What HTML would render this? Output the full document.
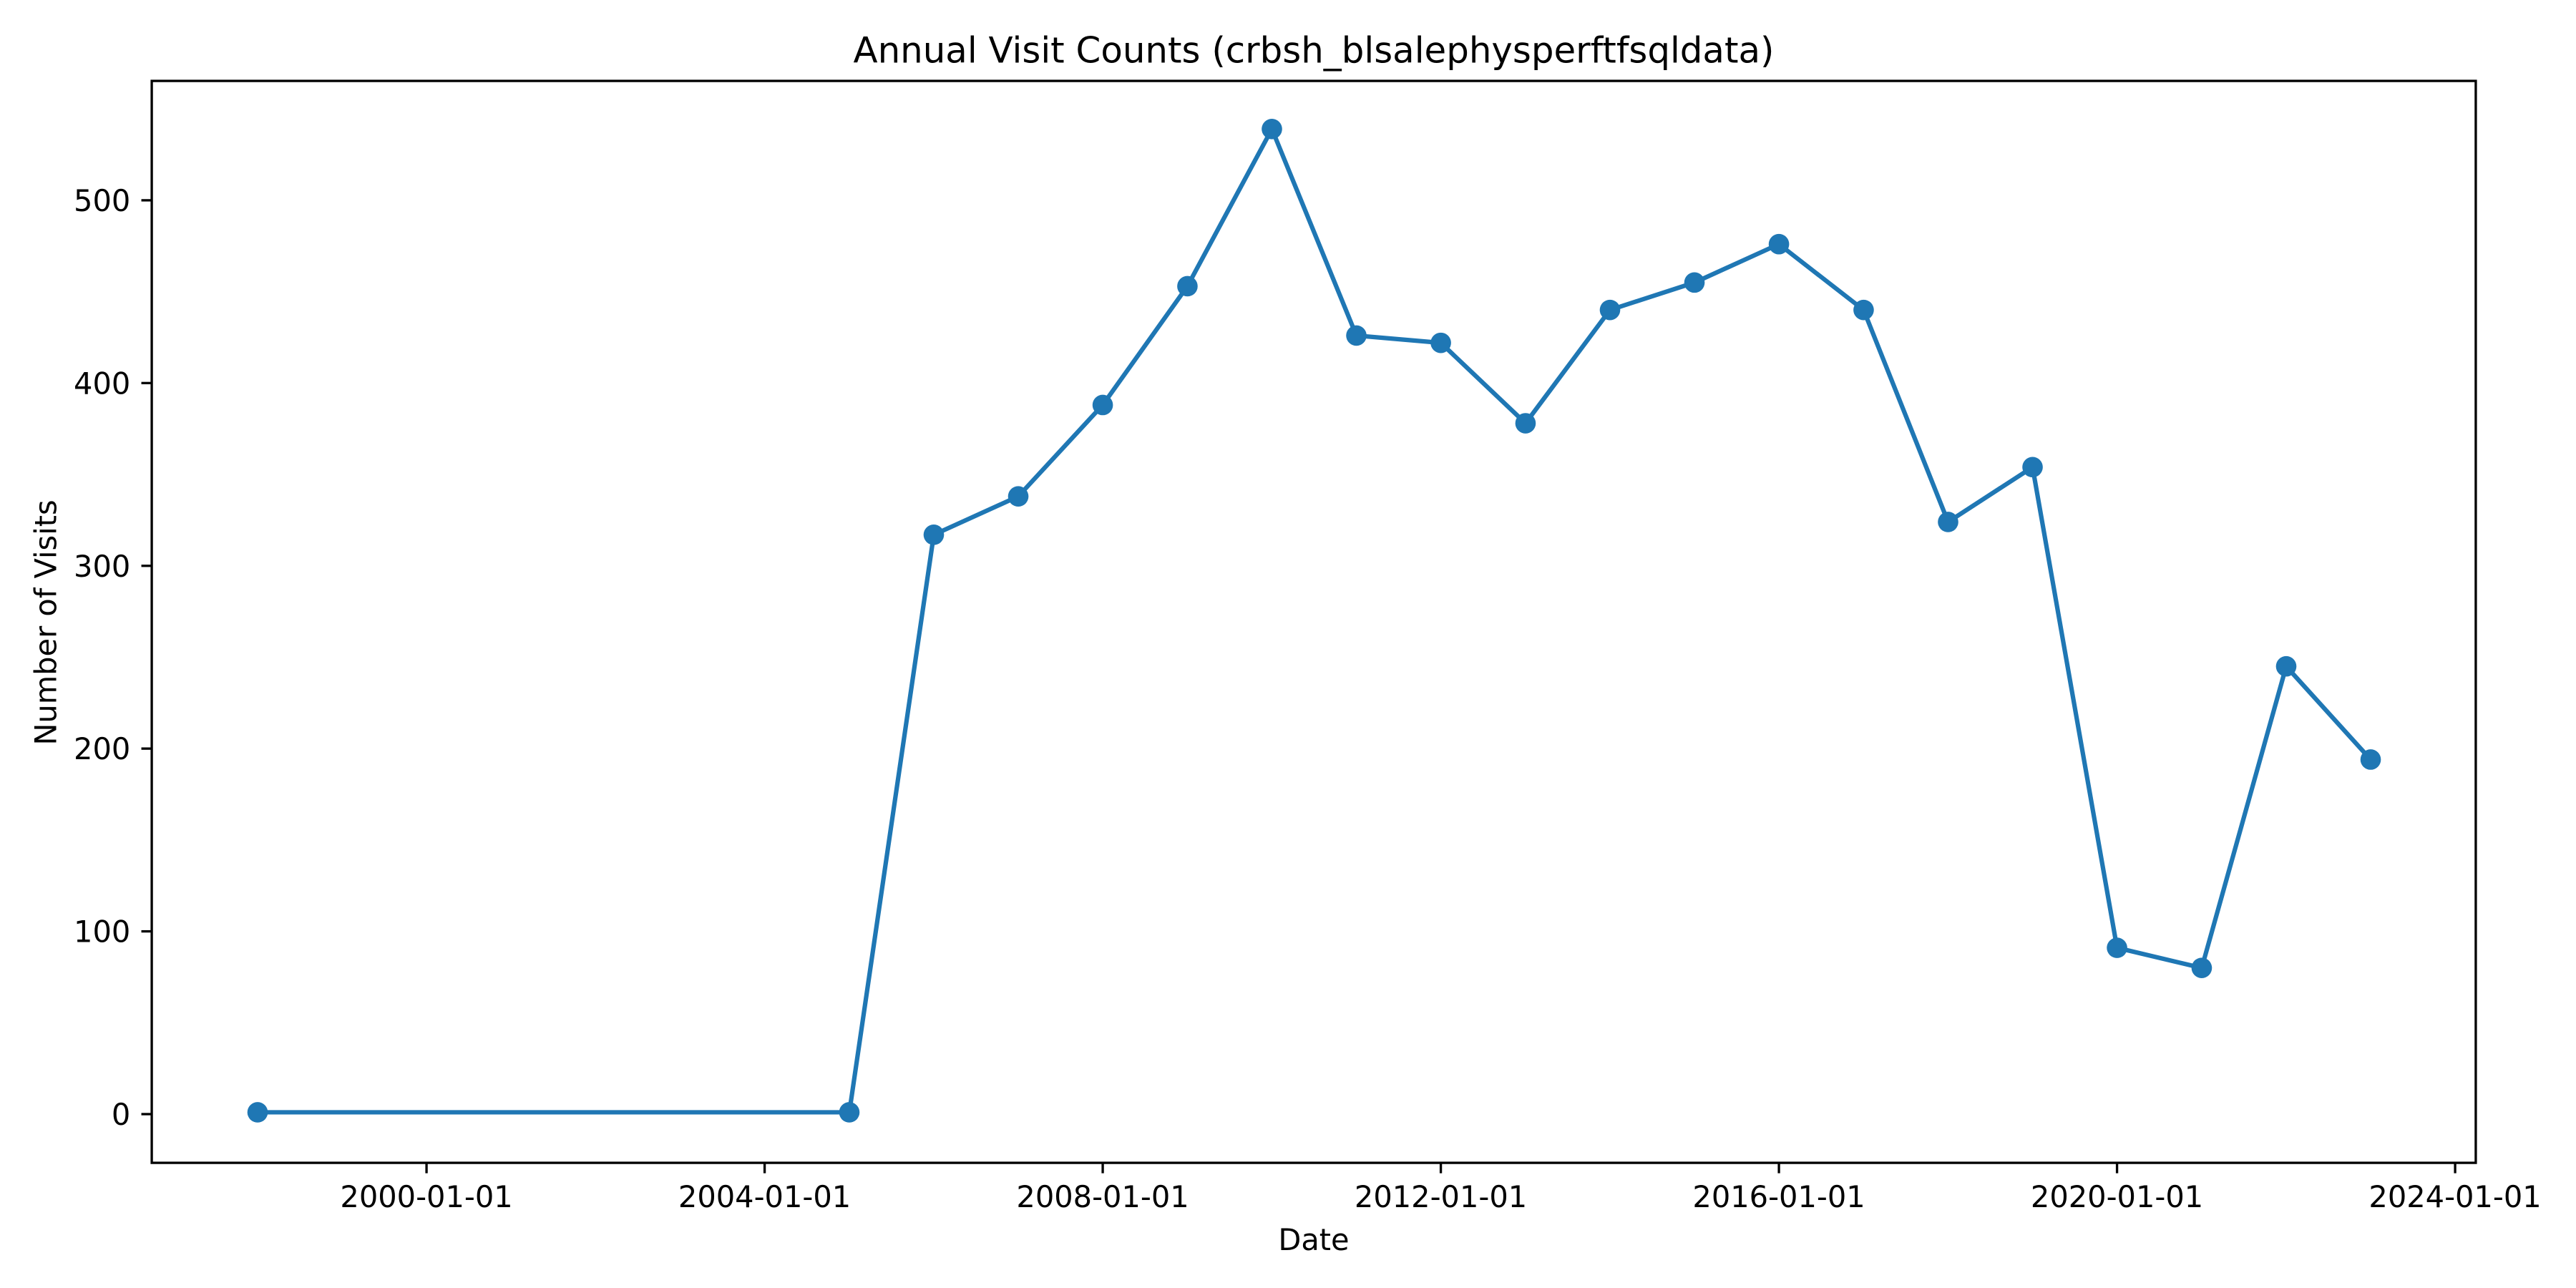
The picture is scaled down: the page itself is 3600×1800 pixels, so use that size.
<!DOCTYPE html>
<html><head><meta charset="utf-8">
<style>html,body{margin:0;padding:0;background:#fff}svg{display:block}</style>
</head><body>
<svg id="chart" width="3600" height="1800" viewBox="0 0 1560 780" xmlns="http://www.w3.org/2000/svg" font-family="'DejaVu Sans','Liberation Sans',sans-serif">
<rect width="1560" height="780" fill="#fff"/>
<text x="795.6" y="38" text-anchor="middle" font-size="21.6">Annual Visit Counts (crbsh_blsalephysperftfsqldata)</text>
<g id="grid"></g>
<rect x="91.9" y="49" width="1407.4" height="655.2" fill="none" stroke="#000" stroke-width="1.44"/>
<text x="795.6" y="757" text-anchor="middle" font-size="18">Date</text>
<text transform="translate(34,377) rotate(-90)" text-anchor="middle" font-size="18">Number of Visits</text>
</svg>
<script>
const years = [1998,2005,2006,2007,2008,2009,2010,2011,2012,2013,2014,2015,2016,2017,2018,2019,2020,2021,2022,2023];
const visits = [1,1,317,338,388,453,539,426,422,378,440,455,476,440,324,354,91,80,245,194];
const xTickLabels = ["2000-01-01","2004-01-01","2008-01-01","2012-01-01","2016-01-01","2020-01-01","2024-01-01"];
const yTicks = [0,100,200,300,400,500];

const NS="http://www.w3.org/2000/svg";
const svg=document.getElementById('chart');
const g=document.getElementById('grid');
const t0=Date.UTC(2000,0,1), t1=Date.UTC(2024,0,1);
function xPos(ms){return 258.3+(ms-t0)/(t1-t0)*(1486.8-258.3);}
function yPos(v){return 674.7+(v-0)*(121.3-674.7)/500;}
function mk(tag,attrs,parent){const e=document.createElementNS(NS,tag);for(const k in attrs)e.setAttribute(k,attrs[k]);(parent||svg).appendChild(e);return e;}

yTicks.forEach(v=>{
  const y=yPos(v);
  const tk=mk('line',{x1:91.9,x2:85.6,y1:y,y2:y,stroke:'#000','stroke-width':1.44},g);
  
  
  const tx=mk('text',{x:79,y:y+6.5,'text-anchor':'end','font-size':'18'},g);
  tx.textContent=String(v);
  
  
});
xTickLabels.forEach(s=>{
  const p=s.split('-').map(Number);
  const x=xPos(Date.UTC(p[0],p[1]-1,p[2]));
  const tk=mk('line',{x1:x,x2:x,y1:704.2,y2:710.5,stroke:'#000','stroke-width':1.44},g);
  
  
  const tx=mk('text',{x:x,y:731,'text-anchor':'middle','font-size':'18'},g);
  tx.textContent=s;
  
  
});
const pts=years.map((yr,i)=>[xPos(Date.UTC(yr,0,1)),yPos(visits[i])]);
const line=mk('polyline',{points:pts.map(p=>p.join(',')).join(' '),fill:'none',stroke:'#1f77b4','stroke-width':2.7,'stroke-linejoin':'round'});


pts.forEach(p=>{
  const c=mk('circle',{cx:p[0],cy:p[1],r:6.2,fill:'#1f77b4'});
  
  
});
</script>
</body></html>
